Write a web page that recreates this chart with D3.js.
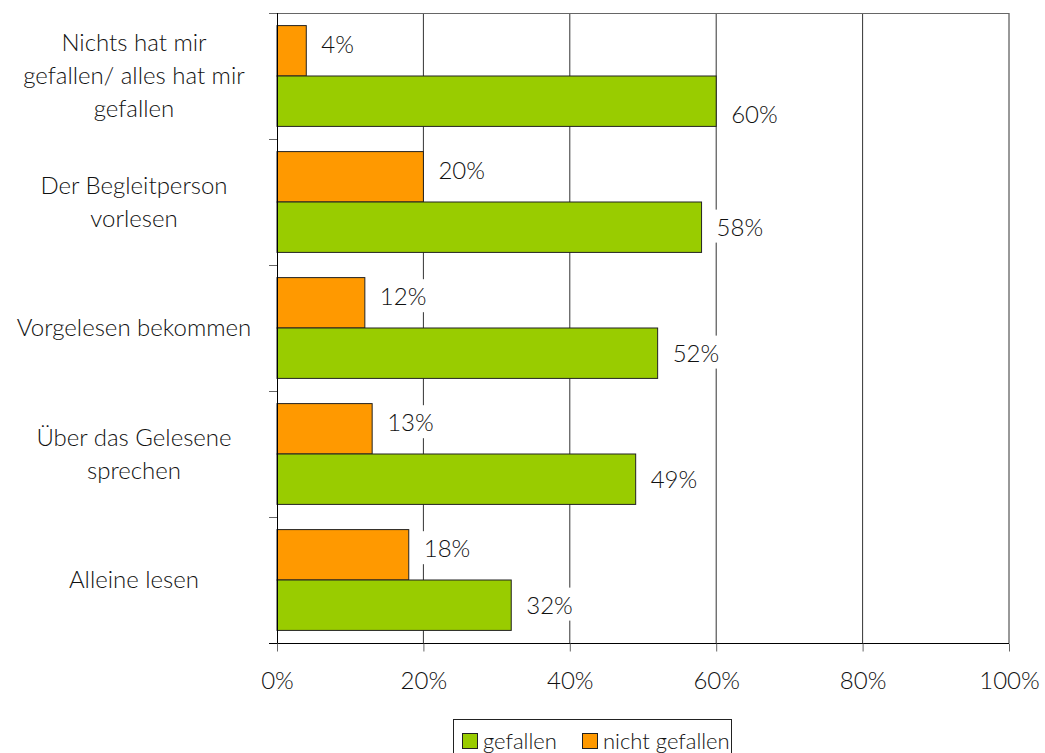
<!DOCTYPE html>
<html>
<head>
<meta charset="utf-8">
<script src="https://cdn.jsdelivr.net/npm/d3@7"></script>
<style>
  body { margin: 0; background: #fff; }
  text { font-family: Lato, "Open Sans", sans-serif; font-weight: 300; fill: #111; }
</style>
</head>
<body>
<div id="chart"></div>
<script>
// Bar chart: gefallen / nicht gefallen
var categories = [
  ["Nichts hat mir", "gefallen/ alles hat mir", "gefallen"],
  ["Der Begleitperson", "vorlesen"],
  ["Vorgelesen bekommen"],
  ["Über das Gelesene", "sprechen"],
  ["Alleine lesen"]
];
var gefallen = [60, 58, 52, 49, 32];
var nichtGefallen = [4, 20, 12, 13, 18];
var xTicks = [0, 20, 40, 60, 80, 100];
var seriesNames = ["gefallen", "nicht gefallen"];

var width = 1045,
    height = 753,
    margin = { left: 277, right: 36, top: 13, bottom: 110 },
    colors = { gefallen: "#99cc00", nicht: "#ff9900" },
    fontSize = 24;

var svg = d3.select("#chart").append("svg")
  .attr("width", width)
  .attr("height", height);

var x = d3.scaleLinear()
  .domain([0, 100])
  .range([margin.left, width - margin.right]);

var y = d3.scaleBand()
  .domain(d3.range(categories.length))
  .range([margin.top, height - margin.bottom]);

var inner = d3.scaleBand()
  .domain(["nicht", "gef"])
  .range([0, y.bandwidth()])
  .paddingInner(0)
  .paddingOuter(0.25);

// gridlines
svg.append("g").selectAll("line").data(xTicks.slice(1)).enter()
  .append("line")
  .attr("x1", d => x(d)).attr("x2", d => x(d))
  .attr("y1", margin.top).attr("y2", height - margin.bottom)
  .attr("stroke", "#333").attr("stroke-width", 1);

// top border
svg.append("line")
  .attr("x1", margin.left - 8).attr("x2", x(100))
  .attr("y1", margin.top + 0.5).attr("y2", margin.top + 0.5)
  .attr("stroke", "#666");

// bars
var groups = svg.append("g").selectAll("g").data(categories).enter()
  .append("g")
  .attr("transform", (d, i) => "translate(0," + y(i) + ")");

groups.append("rect")
  .attr("x", x(0))
  .attr("y", inner("nicht"))
  .attr("width", (d, i) => x(nichtGefallen[i]) - x(0))
  .attr("height", inner.bandwidth())
  .attr("fill", colors.nicht)
  .attr("stroke", "#222").attr("stroke-width", 1);

groups.append("rect")
  .attr("x", x(0))
  .attr("y", inner("gef"))
  .attr("width", (d, i) => x(gefallen[i]) - x(0))
  .attr("height", inner.bandwidth())
  .attr("fill", colors.gefallen)
  .attr("stroke", "#222").attr("stroke-width", 1);

// value labels (white box behind, like the original)
function valueLabel(g, xPos, yPos, txt) {
  var bg = g.append("rect").attr("fill", "#fff");
  var t = g.append("text")
    .attr("x", xPos)
    .attr("y", yPos)
    .attr("dy", "0.35em")
    .style("font-size", fontSize + "px")
    .text(txt);
  var b = t.node().getBBox();
  bg.attr("x", b.x - 3).attr("y", b.y - 2)
    .attr("width", b.width + 6).attr("height", b.height + 4);
}

groups.each(function(d, i) {
  var g = d3.select(this);
  valueLabel(g, x(nichtGefallen[i]) + 15,
    inner("nicht") + inner.bandwidth() / 2 - 6, nichtGefallen[i] + "%");
  valueLabel(g, x(gefallen[i]) + 15,
    inner("gef") + inner.bandwidth() / 2 + (i === 0 ? 13 : 0), gefallen[i] + "%");
});

// category labels
var lineH = 33;
groups.append("text")
  .attr("text-anchor", "middle")
  .style("font-size", fontSize + "px")
  .each(function(d) {
    var t = d3.select(this);
    var off = -(d.length - 1) / 2 * lineH;
    d.forEach(function(line, k) {
      t.append("tspan")
        .attr("x", 134)
        .attr("y", y.bandwidth() / 2 + off + k * lineH)
        .attr("dy", "0.35em")
        .text(line);
    });
  });

// y axis
var yAxis = svg.append("g");
yAxis.append("line")
  .attr("x1", x(0) + 0.5).attr("x2", x(0) + 0.5)
  .attr("y1", margin.top).attr("y2", height - margin.bottom + 8)
  .attr("stroke", "#000");
yAxis.selectAll(".tk").data(d3.range(categories.length + 1)).enter()
  .append("line")
  .attr("x1", x(0) - 8).attr("x2", x(0))
  .attr("y1", i => margin.top + i * y.step() + 0.5)
  .attr("y2", i => margin.top + i * y.step() + 0.5)
  .attr("stroke", "#666");

// x axis
var xAxis = svg.append("g")
  .attr("transform", "translate(0," + (height - margin.bottom + 0.5) + ")")
  .call(d3.axisBottom(x).tickValues(xTicks).tickSize(8).tickPadding(20)
    .tickFormat(d => d + "%"));
xAxis.select(".domain").attr("stroke", "#000").attr("d", "M" + (x(0) - 8) + ",0H" + x(100));
xAxis.selectAll(".tick line").attr("stroke", "#666");
xAxis.selectAll(".tick text")
  .style("font-size", fontSize + "px")
  .style("font-family", "Lato, sans-serif")
  .style("font-weight", 300)
  .attr("fill", "#111");

// legend
var legend = svg.append("g").attr("transform", "translate(453,719)");
legend.append("rect")
  .attr("x", 0.5).attr("y", 0.5)
  .attr("width", 278).attr("height", 40)
  .attr("fill", "#fff").attr("stroke", "#222");
var legendItems = [
  { name: seriesNames[0], color: colors.gefallen, x: 9 },
  { name: seriesNames[1], color: colors.nicht, x: 129 }
];
var li = legend.selectAll(".li").data(legendItems).enter()
  .append("g")
  .attr("transform", d => "translate(" + d.x + ",0)");
li.append("rect")
  .attr("x", 0.5).attr("y", 14.5)
  .attr("width", 15).attr("height", 15)
  .attr("fill", d => d.color).attr("stroke", "#222");
li.append("text")
  .attr("x", 21).attr("y", 22)
  .attr("dy", "0.35em")
  .style("font-size", "22px")
  .text(d => d.name);
</script>
</body>
</html>
